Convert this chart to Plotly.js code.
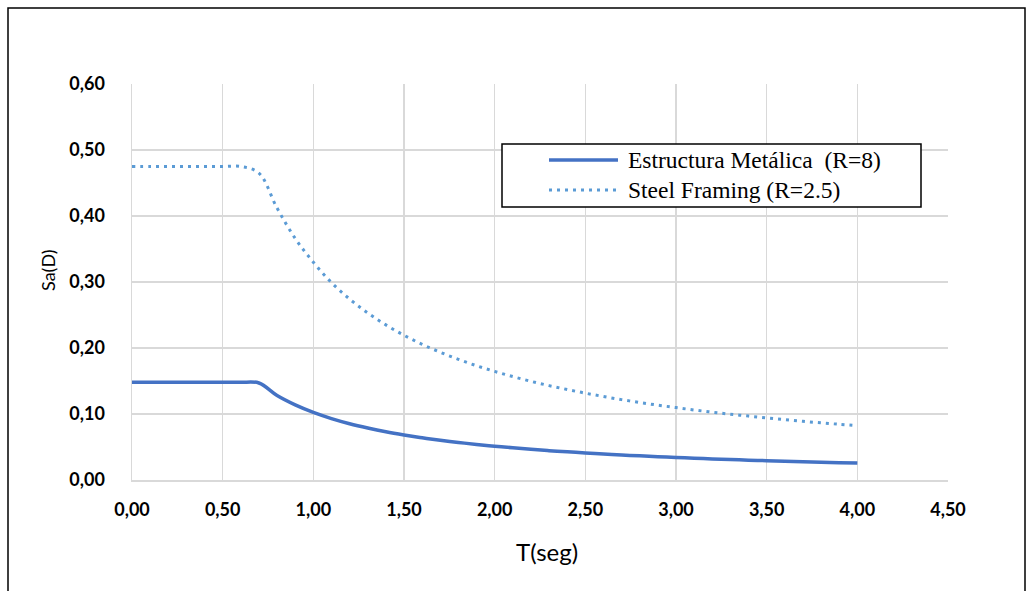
<!DOCTYPE html>
<html><head><meta charset="utf-8">
<script src="https://cdn.plot.ly/plotly-3.0.1.min.js"></script>
<style>body{margin:0;padding:0;background:#fff}#chart{width:1029px;height:591px}</style>
</head><body><div id="chart"></div>
<script>
var periodT = [0.0,0.1,0.2,0.3,0.4,0.5,0.6,0.7,0.8,0.9,1.0,1.1,1.2,1.3,1.4,1.5,1.6,1.7,1.8,1.9,2.0,2.1,2.2,2.3,2.4,2.5,2.6,2.7,2.8,2.9,3.0,3.1,3.2,3.3,3.4,3.5,3.6,3.7,3.8,3.9,4.0];
var saMetalica = [0.148,0.148,0.148,0.148,0.148,0.148,0.148,0.147,0.1280,0.1138,0.1024,0.0931,0.0853,0.0788,0.0731,0.0683,0.0640,0.0602,0.0569,0.0539,0.0512,0.0488,0.0465,0.0445,0.0427,0.0410,0.0394,0.0379,0.0366,0.0353,0.0341,0.0330,0.0320,0.0310,0.0301,0.0293,0.0284,0.0277,0.0269,0.0262,0.0256];
var saSteel = [0.475,0.475,0.475,0.475,0.475,0.475,0.475,0.465,0.412,0.366,0.330,0.2991,0.2742,0.2531,0.2350,0.2193,0.2056,0.1935,0.1828,0.1731,0.1645,0.1567,0.1495,0.1430,0.1371,0.1316,0.1265,0.1218,0.1175,0.1134,0.1097,0.1061,0.1028,0.0997,0.0968,0.0940,0.0914,0.0889,0.0866,0.0844,0.0823];
var seriesNames = ["Estructura Metálica\u00a0\u00a0(R=8)", "Steel Framing (R=2.5)"];
var xTicks = [0,0.5,1,1.5,2,2.5,3,3.5,4,4.5];
var xTickText = ["0,00","0,50","1,00","1,50","2,00","2,50","3,00","3,50","4,00","4,50"];
var yTicks = [0,0.1,0.2,0.3,0.4,0.5,0.6];
var yTickText = ["0,00","0,10","0,20","0,30","0,40","0,50","0,60"];
var xTitle = "T(seg)";
var yTitle = "Sa(D)";

var colMet = '#4472C4', colSteel = '#5B9BD5';
var traces = [
  {x: periodT, y: saMetalica, name: seriesNames[0], type: 'scatter', mode: 'lines',
   line: {color: colMet, width: 3.5, shape: 'spline', smoothing: 1}},
  {x: periodT, y: saSteel, name: seriesNames[1], type: 'scatter', mode: 'lines',
   line: {color: colSteel, width: 3, dash: '3px,5px', shape: 'spline', smoothing: 1}}
];

// pixel helpers for paper coords (plot area 132..948 x, 84..480 y)
var L = 132, T0 = 84, W = 816, H = 396;
function px(x){ return (x - L) / W; }
function py(y){ return (T0 + H - y) / H; }

var sans = 'Lato, "Open Sans", sans-serif';
var tickFont = {family: sans, size: 18, color: '#000', weight: 'bold'};
var legFont = {family: '"Liberation Serif", "Times New Roman", serif', size: 23.5, color: '#000'};
var layout = {
  width: 1029, height: 591,
  margin: {l: L, r: 1029 - L - W, t: T0, b: 591 - T0 - H},
  paper_bgcolor: '#fff', plot_bgcolor: '#fff',
  showlegend: false,
  xaxis: {range: [0, 4.5], tickvals: xTicks, ticktext: xTickText, tickfont: tickFont,
    showgrid: true, gridcolor: '#d9d9d9', gridwidth: 1.5, zeroline: false,
    showline: true, linecolor: '#d9d9d9', linewidth: 1.5, ticks: '', ticklabelstandoff: 13},
  yaxis: {range: [0, 0.6], tickvals: yTicks, ticktext: yTickText, tickfont: tickFont,
    showgrid: true, gridcolor: '#d9d9d9', gridwidth: 1.5, zeroline: false,
    showline: true, linecolor: '#d9d9d9', linewidth: 1.5, ticks: '', ticklabelstandoff: 22},
  annotations: [
    {xref: 'paper', yref: 'paper', x: px(48), y: py(270), text: yTitle, textangle: -90, showarrow: false,
     xanchor: 'center', yanchor: 'middle', font: {family: sans, size: 18, color: '#000'}},
    {xref: 'paper', yref: 'paper', x: px(547), y: py(551), text: xTitle, showarrow: false,
     xanchor: 'center', yanchor: 'middle', font: {family: sans, size: 24, color: '#000'}},
    {xref: 'paper', yref: 'paper', x: px(626), y: py(160), text: seriesNames[0], showarrow: false,
     xanchor: 'left', yanchor: 'middle', font: legFont},
    {xref: 'paper', yref: 'paper', x: px(626), y: py(190), text: seriesNames[1], showarrow: false,
     xanchor: 'left', yanchor: 'middle', font: legFont}
  ],
  shapes: [
    {type: 'rect', xref: 'paper', yref: 'paper', x0: px(8), x1: px(1025), y0: py(620), y1: py(8),
     line: {color: '#000', width: 1.5}, fillcolor: 'rgba(0,0,0,0)', layer: 'above'},
    {type: 'rect', xref: 'paper', yref: 'paper', x0: px(502), x1: px(921), y0: py(207), y1: py(144),
     line: {color: '#000', width: 1.5}, fillcolor: '#fff', layer: 'above'},
    {type: 'line', xref: 'paper', yref: 'paper', x0: px(549), x1: px(618), y0: py(160), y1: py(160),
     line: {color: colMet, width: 3.5}, layer: 'above'},
    {type: 'line', xref: 'paper', yref: 'paper', x0: px(549), x1: px(618), y0: py(190), y1: py(190),
     line: {color: colSteel, width: 3, dash: '3px,5px'}, layer: 'above'}
  ]
};
Plotly.newPlot('chart', traces, layout, {displayModeBar: false, staticPlot: true});
</script></body></html>
